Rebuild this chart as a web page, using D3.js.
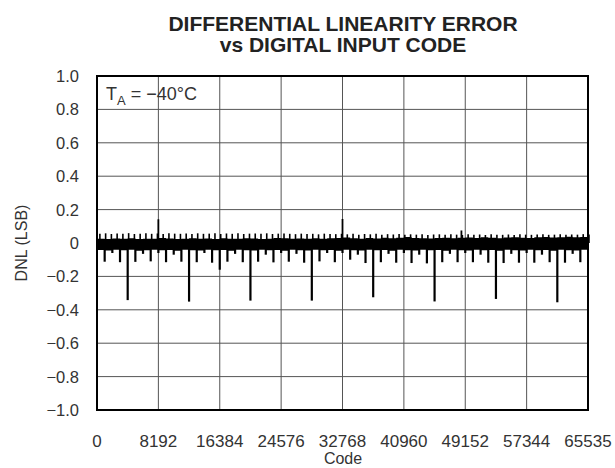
<!DOCTYPE html>
<html><head><meta charset="utf-8">
<script src="https://cdn.jsdelivr.net/npm/d3@7/dist/d3.min.js"></script>
<style>body{margin:0;background:#fff}svg{display:block;font-family:"Liberation Sans",Arial,sans-serif}</style>
</head><body><svg id="c" width="615" height="468"></svg>
<script>
// ---- data ----
const titleLines = ["DIFFERENTIAL LINEARITY ERROR", "vs DIGITAL INPUT CODE"];
const xTicks = [0, 8192, 16384, 24576, 32768, 40960, 49152, 57344, 65535];
const yTicks = [1.0, 0.8, 0.6, 0.4, 0.2, 0, -0.2, -0.4, -0.6, -0.8, -1.0];
const yTickLabels = ["1.0","0.8","0.6","0.4","0.2","0","\u22120.2","\u22120.4","\u22120.6","\u22120.8","\u22121.0"];
const xLabel = "Code", yLabel = "DNL (LSB)";
// band envelope, one value every 1024 codes
const bandStep = 1024;
const bandHi = [0.026,0.024,0.027,0.025,0.028,0.024,0.026,0.025,0.030,0.027,0.024,0.026,0.028,0.025,0.027,0.024,
0.028,0.026,0.025,0.029,0.027,0.024,0.026,0.030,0.028,0.025,0.027,0.026,0.029,0.025,0.028,0.030,
0.033,0.028,0.026,0.030,0.027,0.032,0.029,0.031,0.036,0.030,0.028,0.027,0.030,0.032,0.029,0.031,
0.033,0.030,0.034,0.031,0.029,0.033,0.035,0.032,0.030,0.034,0.036,0.033,0.035,0.038,0.034,0.036,0.037];
const bandLo = [-0.042,-0.045,-0.040,-0.044,-0.041,-0.046,-0.043,-0.040,-0.044,-0.042,-0.047,-0.041,-0.043,-0.045,-0.040,-0.044,
-0.042,-0.046,-0.041,-0.043,-0.045,-0.040,-0.044,-0.042,-0.046,-0.041,-0.043,-0.045,-0.040,-0.044,-0.042,-0.046,
-0.041,-0.043,-0.045,-0.040,-0.044,-0.042,-0.046,-0.041,-0.043,-0.045,-0.040,-0.044,-0.042,-0.046,-0.041,-0.043,
-0.045,-0.040,-0.044,-0.042,-0.046,-0.041,-0.043,-0.045,-0.040,-0.044,-0.042,-0.046,-0.041,-0.043,-0.045,-0.040,-0.042];
// small upward ticks, one every 768 codes
const upStep = 768;
const upTicks = [0.055,0.058,0.054,0.057,0.055,0.059,0.054,0.056,0.058,0.055,0.057,0.054,0.058,0.056,0.055,0.057,
0.054,0.058,0.055,0.056,0.059,0.054,0.057,0.055,0.058,0.054,0.056,0.057,0.055,0.058,0.054,0.056,
0.057,0.055,0.053,0.056,0.054,0.055,0.052,0.056,0.054,0.053,0.055,0.052,0.056,0.050,0.054,0.052,
0.055,0.050,0.053,0.051,0.054,0.049,0.052,0.050,0.053,0.048,0.051,0.052,0.049,0.053,0.050,0.048,
0.052,0.049,0.051,0.048,0.052,0.050,0.049,0.051,0.048,0.052,0.050,0.049,0.051,0.053,0.049,0.050,
0.052,0.049,0.051,0.050,0.053,0.051];
// downward spikes, one every 1024 codes
const downStep = 1024;
const downTicks = [-0.05,-0.112,-0.06,-0.115,-0.342,-0.113,-0.065,-0.11,
-0.06,-0.115,-0.07,-0.112,-0.351,-0.115,-0.06,-0.118,
-0.16,-0.112,-0.065,-0.115,-0.345,-0.112,-0.07,-0.116,
-0.06,-0.112,-0.065,-0.118,-0.345,-0.11,-0.06,-0.115,
-0.06,-0.10,-0.07,-0.12,-0.325,-0.115,-0.065,-0.118,
-0.06,-0.12,-0.07,-0.122,-0.35,-0.115,-0.065,-0.115,
-0.06,-0.115,-0.07,-0.118,-0.335,-0.12,-0.065,-0.118,
-0.06,-0.118,-0.07,-0.115,-0.355,-0.118,-0.065,-0.115];
const upSpikeCodes = [8192, 32768, 48640];
const upSpikeValues = [0.142, 0.144, 0.075];
const annotation = {main: "T", sub: "A", rest: " = \u221240\u00B0C"};

// ---- drawing ----
const svg = d3.select("#c");
const x = d3.scaleLinear().domain([0, 65535]).range([97, 588]);
const y = d3.scaleLinear().domain([-1, 1]).range([410, 76]);

// grid
svg.append("g").selectAll("line").data(xTicks.slice(1, -1)).join("line")
  .attr("x1", d => x(d)).attr("x2", d => x(d)).attr("y1", y(1)).attr("y2", y(-1))
  .attr("stroke", "#555").attr("stroke-width", 1);
svg.append("g").selectAll("line").data(yTicks.slice(1, -1)).join("line")
  .attr("x1", x(0)).attr("x2", x(65535)).attr("y1", d => y(d)).attr("y2", d => y(d))
  .attr("stroke", "#555").attr("stroke-width", 1);

// data band
const band = bandHi.map((h, i) => ({c: i * bandStep, h, l: bandLo[i]}));
svg.append("path").datum(band)
  .attr("d", d3.area().x(d => x(Math.min(d.c, 65535))).y0(d => y(d.l)).y1(d => y(d.h)).curve(d3.curveStepAfter))
  .attr("fill", "#000");
svg.append("g").selectAll("line").data(upTicks.map((v, i) => ({c: i * upStep + upStep / 2, v})))
  .join("line").attr("x1", d => x(d.c)).attr("x2", d => x(d.c)).attr("y1", y(0)).attr("y2", d => y(d.v))
  .attr("stroke", "#000").attr("stroke-width", 1.6);
svg.append("g").selectAll("line").data(downTicks.map((v, i) => ({c: i * downStep, v})).filter(d => d.c > 0))
  .join("line").attr("x1", d => x(d.c)).attr("x2", d => x(d.c)).attr("y1", y(0)).attr("y2", d => y(d.v))
  .attr("stroke", "#000").attr("stroke-width", 2.2);
svg.append("g").selectAll("line").data(upSpikeCodes.map((c, i) => ({c, v: upSpikeValues[i]})))
  .join("line").attr("x1", d => x(d.c)).attr("x2", d => x(d.c)).attr("y1", y(0)).attr("y2", d => y(d.v))
  .attr("stroke", "#000").attr("stroke-width", 1.8);

// frame
svg.append("rect").attr("x", x(0)).attr("y", y(1)).attr("width", x(65535) - x(0)).attr("height", y(-1) - y(1))
  .attr("fill", "none").attr("stroke", "#000").attr("stroke-width", 2);

// tick labels
svg.append("g").selectAll("text").data(yTicks).join("text")
  .attr("x", 79).attr("y", d => y(d) + 6).attr("text-anchor", "end")
  .attr("font-size", 16.5).attr("fill", "#333").text((d, i) => yTickLabels[i]);
svg.append("g").selectAll("text").data(xTicks).join("text")
  .attr("x", d => x(d)).attr("y", 447).attr("text-anchor", "middle")
  .attr("font-size", 17).attr("fill", "#333").text(d => d);

// axis titles
svg.append("text").attr("x", 343).attr("y", 464).attr("text-anchor", "middle")
  .attr("font-size", 16).attr("fill", "#333").text(xLabel);
svg.append("text").attr("transform", `translate(27,${y(0)}) rotate(-90)`).attr("text-anchor", "middle")
  .attr("font-size", 16).attr("fill", "#333").text(yLabel);

// title
svg.append("g").selectAll("text").data(titleLines).join("text")
  .attr("x", 343).attr("y", (d, i) => 31 + i * 21).attr("text-anchor", "middle")
  .attr("font-size", 21).attr("font-weight", "bold").attr("fill", "#222").text(d => d);

// annotation
const ann = svg.append("text").attr("x", 106).attr("y", 100).attr("font-size", 18).attr("fill", "#333");
ann.append("tspan").text(annotation.main);
ann.append("tspan").attr("font-size", 13).attr("dy", 5).text(annotation.sub);
ann.append("tspan").attr("dy", -5).text(annotation.rest);
</script></body></html>
